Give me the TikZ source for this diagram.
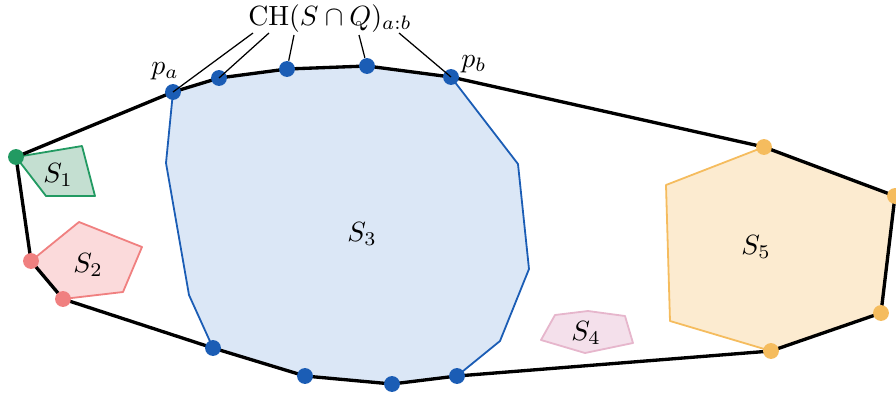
\documentclass[tikz,border=0pt]{standalone}
\begin{document}
\begin{tikzpicture}[x=0.36pt,y=-0.36pt,
  hull/.style={line width=1.2pt,line join=round},
  dotb/.style={circle,fill=dotblue,inner sep=0pt,minimum size=5.7pt},
  dotg/.style={circle,fill=dotgreen,inner sep=0pt,minimum size=5.7pt},
  dotr/.style={circle,fill=dotred,inner sep=0pt,minimum size=5.7pt},
  doto/.style={circle,fill=dotorange,inner sep=0pt,minimum size=5.7pt},
  lead/.style={line width=0.45pt},
  poly/.style={line width=0.65pt,line join=round}]
\definecolor{dotblue}{HTML}{1B5DB5}
\definecolor{fillblue}{HTML}{DBE7F6}
\definecolor{dotgreen}{HTML}{229A62}
\definecolor{fillgreen}{HTML}{C4DFD1}
\definecolor{dotred}{HTML}{F08080}
\definecolor{fillred}{HTML}{FBDADB}
\definecolor{dotorange}{HTML}{F5BC5E}
\definecolor{fillorange}{HTML}{FCEBD0}
\definecolor{strokepink}{HTML}{E6B6CC}
\definecolor{fillpink}{HTML}{F4E0EB}
\useasboundingbox (0,0) rectangle (896,396);

% S3 vertices
\coordinate (b1) at (166,163);
\coordinate (b2) at (189,295);
\coordinate (b3) at (518,164);
\coordinate (b4) at (529,269);
\coordinate (b5) at (500,341);
% S1 vertices
\coordinate (g2) at (82,146);
\coordinate (g3) at (95,196);
\coordinate (g4) at (46,196);
% S2 vertices
\coordinate (r2) at (79,222);
\coordinate (r3) at (142,247);
\coordinate (r4) at (123,292);
% S5 vertices
\coordinate (o2) at (666,185);
\coordinate (o3) at (670,321);
% S4 vertices
\coordinate (k1) at (541,340);
\coordinate (k2) at (555,315);
\coordinate (k3) at (588,311);
\coordinate (k4) at (625,316);
\coordinate (k5) at (633,343);
\coordinate (k6) at (585,353);

% hull points (positions)
\coordinate (G) at (16,157);
\coordinate (PA) at (173,92);
\coordinate (T2) at (219,78);
\coordinate (T3) at (287,69);
\coordinate (T4) at (367,66);
\coordinate (PB) at (451,77);
\coordinate (O1) at (764,147);
\coordinate (O4) at (895,196);
\coordinate (O5) at (881,313);
\coordinate (O6) at (771,351);
\coordinate (B1) at (457,376);
\coordinate (B2) at (392,384);
\coordinate (B3) at (305,376);
\coordinate (B4) at (213,348);
\coordinate (R5) at (63,299);
\coordinate (R1) at (31,261);

% polygons
\filldraw[poly,draw=dotgreen,fill=fillgreen] (G) -- (g2) -- (g3) -- (g4) -- cycle;
\filldraw[poly,draw=dotred,fill=fillred] (R1) -- (r2) -- (r3) -- (r4) -- (R5) -- cycle;
\filldraw[poly,draw=strokepink,fill=fillpink] (k1) -- (k2) -- (k3) -- (k4) -- (k5) -- (k6) -- cycle;
\filldraw[poly,draw=dotorange,fill=fillorange] (O1) -- (O4) -- (O5) -- (O6) -- (o3) -- (o2) -- cycle;
\filldraw[poly,draw=dotblue,fill=fillblue] (PA) -- (T2) -- (T3) -- (T4) -- (PB) -- (b3) -- (b4) -- (b5) -- (B1) -- (B2) -- (B3) -- (B4) -- (b2) -- (b1) -- cycle;

% hull
\draw[hull] (G) -- (PA) -- (T2) -- (T3) -- (T4) -- (PB) -- (O1) -- (O4) -- (O5) -- (O6) -- (B1) -- (B2) -- (B3) -- (B4) -- (R5) -- (R1) -- cycle;

% labels
\node (s1) at (58,175) {$S_1$};
\node (s2) at (88,265) {$S_2$};
\node (s3) at (362,234) {$S_3$};
\node (s4) at (586,333) {$S_4$};
\node (s5) at (756,247) {$S_5$};
\node (lpa) at (165,71) {$p_a$};
\node (lpb) at (474,64) {$p_b$};
\node[anchor=base,inner sep=0pt] (ch) at (330,25) {$\mathrm{CH}(S\cap Q)_{a:b}$};

% dots
\node[dotg] (g) at (G) {};
\node[dotr] (r1) at (R1) {};
\node[dotr] (r5) at (R5) {};
\node[doto] (o1) at (O1) {};
\node[doto] (o4) at (O4) {};
\node[doto] (o5) at (O5) {};
\node[doto] (o6) at (O6) {};
\node[dotb] (pa) at (PA) {};
\node[dotb] (t2) at (T2) {};
\node[dotb] (t3) at (T3) {};
\node[dotb] (t4) at (T4) {};
\node[dotb] (pb) at (PB) {};
\node[dotb] (u1) at (B1) {};
\node[dotb] (u2) at (B2) {};
\node[dotb] (u3) at (B3) {};
\node[dotb] (u4) at (B4) {};

% leader lines
\coordinate (l1) at (253,33);
\coordinate (l2) at (269,33);
\coordinate (l3) at (294,35);
\coordinate (l4) at (359,35);
\coordinate (l5) at (399,33);
\draw[lead] (l1) -- (pa.center);
\draw[lead] (l2) -- (t2.center);
\draw[lead] (l3) -- (t3);
\draw[lead] (l4) -- (t4);
\draw[lead] (l5) -- (pb.center);
\end{tikzpicture}
\end{document}
